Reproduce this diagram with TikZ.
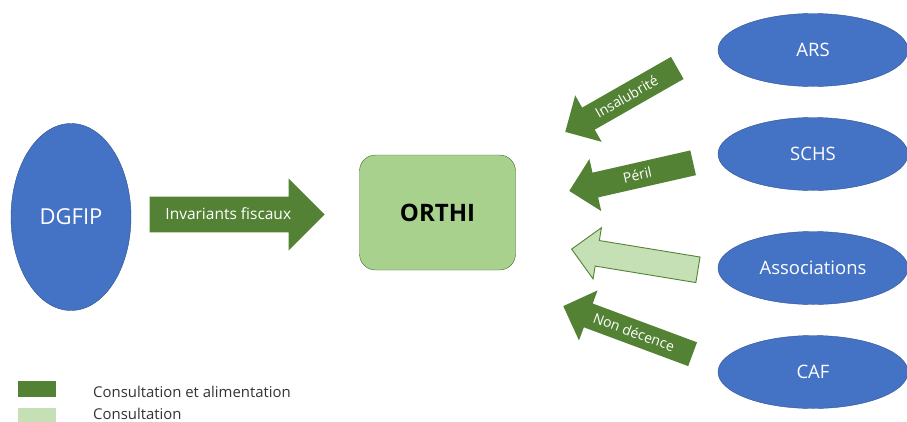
\documentclass[tikz,border=0pt]{standalone}
\usepackage{fontspec}
\setmainfont{Open Sans}
\usetikzlibrary{shapes.geometric,shapes.arrows}
\definecolor{orgblue}{HTML}{4472C4}
\definecolor{orgedge}{HTML}{2F528F}
\definecolor{darkgreen}{HTML}{548235}
\definecolor{palegreen}{HTML}{C5E0B4}
\definecolor{midgreen}{HTML}{A9D18E}
\tikzset{
    org/.style={ellipse, draw=orgedge, fill=orgblue, text=white, inner sep=0pt, font=\fontsize{18.5}{22}\selectfont},
    flow/.style={single arrow, shape border rotate=180, fill=darkgreen, text=white, inner xsep=1pt, inner ysep=4pt,
        text height=13.5pt, text depth=3.5pt,
        single arrow head extend=14pt, single arrow head indent=0pt, minimum width=53pt,
        font=\fontsize{14}{16}\selectfont, anchor=tip},
    legendbox/.style={minimum width=38pt, inner sep=0pt, anchor=north west},
    legendtext/.style={anchor=west, text=black!80, inner sep=0pt, font=\fontsize{14.9}{18}\selectfont}
}
\begin{document}
\begin{tikzpicture}[x=1pt,y=-1pt]
    \useasboundingbox (0,0) rectangle (907,421);

    \node[org, minimum width=120pt, minimum height=187pt, font=\fontsize{22}{26}\selectfont] (dgfip) at (71,217) {DGFIP};
    \node[rectangle, rounded corners=16pt, draw=darkgreen!80!black, fill=midgreen, minimum width=156pt, minimum height=115pt,
        font=\bfseries\fontsize{24}{28}\selectfont] (orthi) at (437.5,212.5) {ORTHI};

    \node[org, minimum width=190pt, minimum height=73pt] (ars) at (813,50) {ARS};
    \node[org, minimum width=190pt, minimum height=73pt] (schs) at (813,154) {SCHS};
    \node[org, minimum width=190pt, minimum height=73pt] (assoc) at (813,268) {Associations};
    \node[org, minimum width=190pt, minimum height=73pt] (caf) at (813,372) {CAF};

    % block arrows, placed by their tip
    \node[flow, shape border rotate=0, minimum height=175pt, minimum width=72pt, inner ysep=9pt, single arrow head extend=18pt,
        font=\fontsize{15.5}{18}\selectfont] (invariants) at (325,214.5) {Invariants fiscaux};
    \node[flow, minimum height=129pt, rotate=29.7] (insalubrite) at (565,132) {Insalubrité};
    \node[flow, minimum height=127pt, rotate=12.8] (peril) at (569,191) {Péril};
    \node[flow, minimum height=128pt, rotate=-9.3, fill=palegreen, draw=darkgreen, line width=0.9pt, minimum width=50pt, single arrow head extend=13pt] (consult) at (571,249) {};
    \node[flow, minimum height=138pt, rotate=-20.4] (decence) at (563,306) {Non décence};

    % legend
    \node[legendbox, fill=darkgreen, minimum height=16pt] (keyfull) at (18,381) {};
    \node[legendbox, fill=palegreen, minimum height=14pt] (keyread) at (18,408) {};
    \node[legendtext] (keyfulltext) at (93,392) {Consultation et alimentation};
    \node[legendtext] (keyreadtext) at (93,414) {Consultation};
\end{tikzpicture}
\end{document}
